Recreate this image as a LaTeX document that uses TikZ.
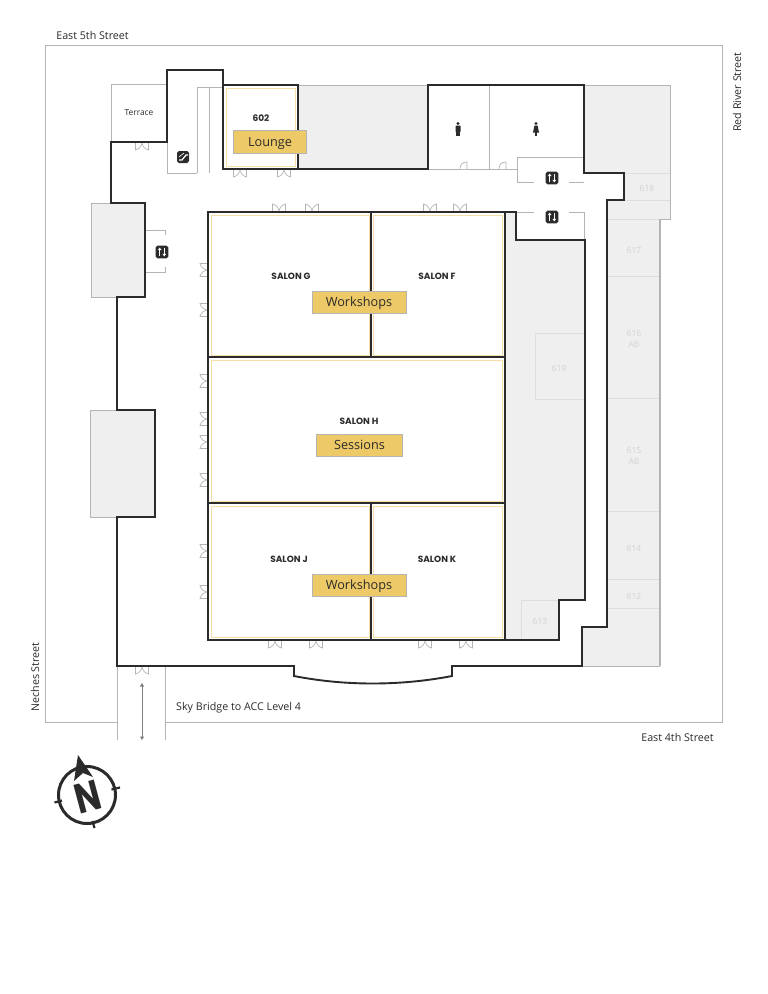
\documentclass[tikz,border=0pt]{standalone}
\usepackage{fontspec}
\setmainfont{Open Sans}
\newfontfamily\salonfont{Poppins}
\usetikzlibrary{arrows.meta}
\definecolor{wallink}{HTML}{2B2B2B}
\definecolor{thinline}{HTML}{B4B4B4}
\definecolor{closedfill}{HTML}{EFEFEF}
\definecolor{closedline}{HTML}{DEDEDE}
\definecolor{closedtext}{HTML}{D2D2D2}
\definecolor{roomframe}{HTML}{F6DFA6}
\definecolor{tagfill}{HTML}{EDC967}
\tikzset{
	wall/.style={draw=wallink, line width=1.9pt, line join=miter},
	thin wall/.style={draw=thinline, line width=.8pt},
	closed/.style={fill=closedfill},
	divider/.style={draw=closedline, line width=.7pt},
	frame/.style={draw=roomframe, line width=1pt},
	tag/.style={draw=thinline, fill=tagfill, line width=.6pt, inner sep=0pt, text=wallink, text height=8.5pt, text depth=0pt, font=\fontsize{12.7}{14}\selectfont},
	street/.style={text=wallink, inner sep=0pt, font=\fontsize{10.7}{11}\selectfont},
	salon/.style={text=wallink, inner sep=0pt, font=\salonfont\bfseries\fontsize{9}{9}\selectfont},
	number/.style={text=closedtext, inner sep=0pt, align=center, font=\fontsize{8.5}{11}\selectfont},
	door/.pic={
		\draw[thinline, line width=.7pt, fill=white] (-6.5,0) -- (-6.5,8) .. controls (-3,7) and (-1,5) .. (0,1) .. controls (1,5) and (3,7) .. (6.5,8) -- (6.5,0);
	},
	lift/.pic={
		\fill[wallink, rounded corners=1.8pt] (-6.3,-6.3) rectangle (6.3,6.3);
		\draw[white, line width=1.1pt, -{Triangle[length=2.6pt,width=3.6pt]}] (-2.3,4.2) -- (-2.3,-4.4);
		\draw[white, line width=1.1pt, -{Triangle[length=2.6pt,width=3.6pt]}] (2.3,-4.2) -- (2.3,4.4);
	},
}
\begin{document}
\begin{tikzpicture}[x=1pt, y=-1pt]
	\useasboundingbox (0,0) rectangle (768,994);
	% site outline
	\draw[thin wall] (117,722) -- (45,722) -- (45,45) -- (722,45) -- (722,722) -- (166,722);
	% closed areas
	\fill[closed] (91,203) rectangle (145,297);
	\fill[closed] (90,410) rectangle (155,517);
	\fill[closed] (298,85) rectangle (428,169);
	\fill[closed] (584,85) -- (670,85) -- (670,219) -- (660,219) -- (660,666) -- (582,666) -- (582,627) -- (607,627) -- (607,200) -- (624,200) -- (624,173) -- (584,173) -- cycle;
	\fill[closed] (505,212) -- (516,212) -- (516,240) -- (585,240) -- (585,600) -- (559,600) -- (559,640) -- (505,640) -- cycle;
	% numbered rooms
	\foreach \y in {219,276,398,511,579,608}
		\draw[divider] (607,\y) -- (660,\y);
	\foreach \y in {173,200}
		\draw[divider] (624,\y) -- (670,\y);
	\draw[divider] (585,333) -- (535,333) -- (535,399) -- (585,399);
	\draw[divider] (559,600) -- (521,600) -- (521,640);
	% thin walls
	\draw[thin wall] (91,297) -- (91,203) -- (111,203);
	\draw[thin wall] (91,297) -- (117,297);
	\draw[thin wall] (117,410) -- (90,410) -- (90,517) -- (117,517);
	\draw[thin wall] (111,142) -- (111,84) -- (167,84);
	\draw[thin wall] (167,142) -- (167,173) -- (197,173);
	\draw[thin wall] (197,173) -- (197,87) -- (223,87);
	\draw[thin wall] (209,87) -- (209,173);
	\draw[thin wall] (298,85) -- (428,85);
	\draw[thin wall] (584,85) -- (670,85) -- (670,219) -- (660,219);
	\draw[thinline, line width=1.5pt] (660,219) -- (660,666);
	\draw[thin wall] (660,666) -- (582,666);
	\draw[thin wall] (489,85) -- (489,169);
	\draw[thin wall] (428,169) -- (517,169);
	\draw[thin wall] (534,182) -- (517,182) -- (517,157) -- (584,157);
	\draw[thin wall] (569,182) -- (584,182);
	\draw[thin wall] (516,212) -- (534,212);
	\draw[thin wall] (569,212) -- (584,212) -- (584,240);
	\draw[thin wall] (145,230) -- (165,230) -- (165,235);
	\draw[thin wall] (145,272) -- (165,272) -- (165,267);
	\draw[thin wall] (117,666) -- (117,740);
	\draw[thin wall] (165,666) -- (165,740);
	\foreach \x in {460,499}
		\draw[thinline, line width=.7pt, fill=white] (\x,169) .. controls (\x,165) and (\x+2,162) .. (\x+7,162) -- (\x+7,169);
	% room frames
	\draw[frame] (226,88) rectangle (295,166);
	\draw[frame] (211,215) rectangle (369,355);
	\draw[frame] (373,215) rectangle (502,355);
	\draw[frame] (211,360) rectangle (502,501);
	\draw[frame] (211,506) rectangle (369,637);
	\draw[frame] (373,506) rectangle (502,637);
	% doors
	\foreach \x in {240,284}
		\pic at (\x,169) {door};
	\foreach \x in {275,316,425,466}
		\pic at (\x,640) {door};
	\foreach \x in {142}{
		\pic at (\x,142) {door};
		\pic at (\x,666) {door};
	}
	\foreach \x in {279,312,430,460}
		\pic[rotate=180] at (\x,212) {door};
	\foreach \y in {270,310,381,419,442,480,551,592}
		\pic[rotate=-90] at (208,\y) {door};
	% outer walls
	\draw[wall] (117,297) -- (145,297) -- (145,203) -- (111,203) -- (111,142) -- (167,142) -- (167,70) -- (223,70) -- (223,169) -- (428,169) -- (428,85) -- (584,85) -- (584,173) -- (624,173) -- (624,200) -- (607,200) -- (607,627) -- (582,627) -- (582,666) -- (452,666) -- (452,676) .. controls (400,686) and (345,686) .. (294,676) -- (294,666) -- (117,666) -- (117,517) -- (155,517) -- (155,410) -- (117,410) -- cycle;
	\draw[wall] (223,85) -- (298,85) -- (298,169);
	\draw[wall] (208,212) rectangle (505,640);
	\draw[wall] (371,212) -- (371,357);
	\draw[wall] (371,503) -- (371,640);
	\draw[wall] (208,357) -- (505,357);
	\draw[wall] (208,503) -- (505,503);
	\draw[wall] (505,212) -- (516,212) -- (516,240) -- (585,240) -- (585,600) -- (559,600) -- (559,640) -- (505,640);
	% lifts and stairs
	\pic at (162,252) {lift};
	\pic at (552,178) {lift};
	\pic at (552,217) {lift};
	\fill[wallink, rounded corners=1.8pt] (177,151) rectangle (189,163);
	\draw[white, line width=1.2pt] (179,160) -- (182,160) -- (186,155) -- (188,155);
	\draw[white, line width=.6pt] (179,157) -- (184,153);
	% toilets
	\fill[wallink] (458,123.5) circle [radius=1.6];
	\fill[wallink, rounded corners=.6pt] (455.5,125.5) rectangle (460.5,132);
	\fill[wallink] (456.2,131) rectangle (459.8,136);
	\fill[wallink] (536,123.5) circle [radius=1.6];
	\fill[wallink] (534.4,125.5) -- (537.6,125.5) -- (539,132.5) -- (533,132.5) -- cycle;
	\fill[wallink] (534.6,132) rectangle (537.4,136);
	% sky bridge arrow
	\coordinate (bridgetop) at (142,683);
	\coordinate (bridgeend) at (142,740);
	\draw[thinline!70!black, line width=.7pt, {Triangle[length=3.5pt,width=4pt]}-{Triangle[length=3.5pt,width=4pt]}] (bridgetop) -- (bridgeend);
	% compass
	\draw[wallink, line width=3pt] (87,795) circle [radius=28.5];
	\draw[wallink, line width=2.2pt] (111.5,789.5) -- (120,787.5);
	\draw[wallink, line width=2.2pt] (92.5,821) -- (94.5,828);
	\draw[wallink, line width=2.2pt] (62,800.5) -- (54.5,802.5);
	\fill[wallink] (78,755) -- (93,777) -- (83,773) -- (74,781) -- cycle;
	\node[rotate=15, xscale=.8, text=wallink, inner sep=0pt, font=\salonfont\bfseries\fontsize{42}{42}\selectfont] (compassN) at (88,797) {N};
	% streets
	\node[street] (fifth) at (92.5,35) {East 5th Street};
	\node[street, rotate=90] (redriver) at (737,92) {Red River Street};
	\node[street, rotate=90] (neches) at (35,677) {Neches Street};
	\node[street] (fourth) at (677.5,737) {East 4th Street};
	\node[street, anchor=west] (bridge) at (176,707.5) {Sky Bridge to ACC Level 4};
	% rooms
	\node[street, font=\fontsize{8.4}{9}\selectfont] (terrace) at (139,112.5) {Terrace};
	\foreach \x/\y/\name/\roomtext in {261/118/r602/602, 291/276/salonG/SALON G, 437/276/salonF/SALON F, 359/421/salonH/SALON H, 289/559/salonJ/SALON J, 437/559/salonK/SALON K}
		\node[salon] (\name) at (\x,\y) {\roomtext};
	\foreach \x/\y/\name/\roomtext in {647/188/r618/618, 634/250/r617/617, 634/339/r616/{616\\AB}, 559/368/r619/619, 634/456/r615/{615\\AB}, 634/548/r614/614, 634/596/r612/612, 540/621/r613/613}
		\node[number] (\name) at (\x,\y) {\roomtext};
	% track tags
	\node[tag, minimum width=73pt, minimum height=23pt] (lounge) at (270,142) {Lounge};
	\node[tag, minimum width=94pt, minimum height=22.5pt] (workshopsA) at (359,302.5) {Workshops};
	\node[tag, minimum width=86pt, minimum height=22.5pt] (sessions) at (359.5,445.5) {Sessions};
	\node[tag, minimum width=94pt, minimum height=22pt] (workshopsB) at (359,585) {Workshops};
\end{tikzpicture}
\end{document}
